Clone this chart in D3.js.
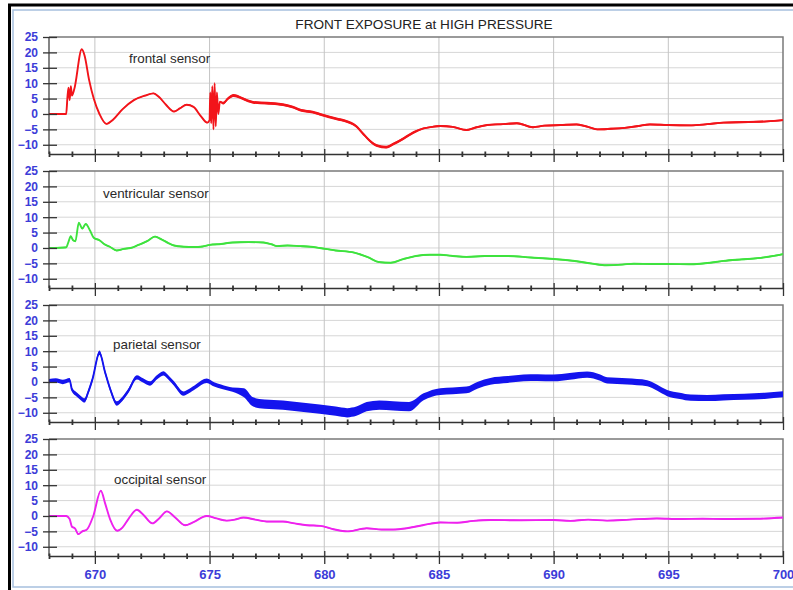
<!DOCTYPE html>
<html>
<head>
<meta charset="utf-8">
<script src="https://cdn.jsdelivr.net/npm/d3@7"></script>
<style>
  body { margin: 0; background: #fff; }
  svg { display: block; font-family: "Liberation Sans", Arial, sans-serif; }
</style>
</head>
<body>
<script>
'use strict';

// chart values
const title = "FRONT EXPOSURE at HIGH PRESSURE";
const sensorNames = ["frontal sensor", "ventricular sensor", "parietal sensor", "occipital sensor"];
const sensorColors = ["#f2141a", "#3ee23e", "#1414ee", "#ee22ee"];
const xMajorTicks = [670, 675, 680, 685, 690, 695, 700];
const yTicks = [25, 20, 15, 10, 5, 0, -5, -10];

// [time, value]
const frontal = [
  [668, 0], [668.75, 0], [668.8, 5], [668.85, 8.5], [668.9, 4.5], [668.95, 9], [669.0, 6],
  [669.1, 8], [669.43, 21], [669.55, 19], [669.75, 11], [669.95, 5], [670.2, 0], [670.5, -3.2],
  [670.8, -1.8], [671.2, 1.5], [671.7, 4.5], [672.2, 6], [672.55, 6.7], [672.8, 5.5], [673.1, 3],
  [673.45, 0.8], [673.7, 1.8], [674.0, 3], [674.3, 2.3], [674.6, -0.5], [674.9, -2.8], [675.0, -2],
  [675.03, 7], [675.07, -3], [675.12, 9], [675.17, -5], [675.22, 10], [675.27, -4], [675.32, 7],
  [675.38, 0], [675.45, 4], [675.6, 3.5], [675.8, 5], [676.05, 6], [676.3, 5.5], [676.6, 4.5],
  [676.9, 3.8], [677.5, 3.5], [678.2, 3], [678.6, 2.3], [679.0, 1.2], [679.5, 0.6], [679.9, -0.3],
  [680.5, -1.5], [681.0, -2.5], [681.4, -4], [681.7, -6.5], [682.0, -8.8], [682.3, -10.3],
  [682.7, -10.8], [683.0, -9.8], [683.45, -8], [683.9, -6], [684.33, -4.7], [684.7, -4.2],
  [685.06, -3.9], [685.6, -4.2], [686.2, -5.2], [686.6, -4.4], [687.1, -3.6], [687.8, -3.3],
  [688.4, -3], [689.1, -4.3], [689.6, -3.8], [690.3, -3.6], [691.0, -3.4], [691.5, -4.2],
  [691.9, -5], [692.5, -4.8], [693.1, -4.5], [693.7, -3.9], [694.2, -3.4], [695.0, -3.6],
  [696.0, -3.7], [696.7, -3.3], [697.4, -2.8], [698.5, -2.6], [699.3, -2.4], [700, -2]
];

const ventricular = [
  [668, 0], [668.75, 0.2], [668.85, 2], [668.95, 3.8], [669.05, 2.5], [669.15, 2.2], [669.3, 8.2],
  [669.45, 6.3], [669.6, 7.8], [669.8, 5.5], [669.95, 3.3], [670.2, 2.5], [670.4, 1.3],
  [670.65, 0.4], [670.95, -0.8], [671.25, -0.3], [671.55, 0], [671.9, 1], [672.3, 2.3],
  [672.62, 3.7], [672.9, 2.8], [673.2, 1.6], [673.45, 0.8], [673.9, 0.4], [674.3, 0.3],
  [674.7, 0.5], [675.0, 1], [675.5, 1.3], [676.0, 1.8], [676.7, 1.9], [677.35, 1.8], [677.7, 1.2],
  [677.95, 0.6], [678.4, 0.8], [678.95, 0.6], [679.4, 0.4], [679.8, 0], [680.5, -0.8],
  [681.3, -1.5], [681.9, -3], [682.4, -4.6], [682.9, -4.8], [683.45, -3.6], [684.0, -2.6],
  [684.6, -2.2], [685.06, -2.2], [685.6, -2.6], [686.2, -2.9], [687.0, -2.6], [688.0, -2.6],
  [689.0, -3.1], [690.0, -3.6], [691.0, -4.3], [691.7, -5.1], [692.3, -5.6], [693.0, -5.4],
  [693.5, -5.1], [694.3, -5.2], [695.0, -5.2], [696.0, -5.3], [696.7, -4.9], [697.4, -4.2],
  [698.2, -3.7], [698.9, -3.3], [699.5, -2.7], [700, -2]
];

const parietal = [
  [668, 0.3], [668.3, 0.5], [668.6, 0], [668.9, 0.6], [669.0, -2.5], [669.2, -4], [669.4, -5.3],
  [669.55, -6], [669.7, -3.5], [669.9, 1], [670.2, 9.5], [670.45, 3], [670.7, -3], [670.95, -7],
  [671.2, -5.5], [671.45, -3], [671.83, 1.5], [672.1, 0.5], [672.4, -0.5], [672.7, 1.5],
  [672.99, 2.8], [673.2, 1.5], [673.45, -0.5], [673.86, -3.8], [674.1, -3], [674.4, -1.5],
  [674.88, 0.4], [675.2, -0.8], [675.5, -1.5], [676.0, -2.5], [676.5, -3.5], [676.9, -6.5],
  [677.4, -7.2], [678.2, -7.5], [679.0, -8.2], [679.8, -8.8], [680.5, -9.5], [681.0, -10],
  [681.4, -9.5], [681.85, -8], [682.4, -7.5], [683.0, -7.8], [683.7, -8], [684.33, -4.8],
  [685.06, -3.1], [685.6, -2.9], [686.2, -2.6], [686.7, -1], [687.24, 0.2], [688.0, 0.8],
  [688.69, 1.3], [689.3, 1.4], [690.0, 1.3], [690.7, 1.8], [691.46, 2.4], [692.0, 1.5],
  [692.33, 0.5], [693.2, 0.2], [694.08, -0.4], [694.5, -1.8], [694.95, -3.6], [695.5, -4.5],
  [695.97, -5.1], [696.7, -5.2], [697.4, -5], [698.3, -4.8], [699.2, -4.5], [700, -4]
];

const occipital = [
  [668, 0], [668.75, 0], [668.9, -1], [669.0, -3.5], [669.13, -4], [669.28, -5.9], [669.45, -5],
  [669.64, -4.5], [669.93, 0], [670.26, 8.2], [670.45, 4], [670.66, -1], [670.98, -4.8],
  [671.2, -3.8], [671.46, -1], [671.83, 2], [672.1, 0.5], [672.51, -2.4], [672.8, -0.8],
  [673.14, 1.5], [673.5, -0.5], [673.93, -3], [674.3, -2], [674.88, 0], [675.3, -0.8],
  [675.75, -1.5], [676.1, -1.2], [676.48, -0.5], [677.0, -1.2], [677.5, -1.8], [678.2, -1.8],
  [678.7, -2.4], [679.24, -3], [679.82, -3.2], [680.4, -4.3], [681.0, -5], [681.85, -4],
  [682.5, -4.4], [683.0, -4.4], [683.6, -4], [684.3, -3], [685.06, -2.1], [685.8, -2.2],
  [686.5, -1.6], [687.24, -1.3], [688.5, -1.4], [690.0, -1.3], [690.73, -1.6], [691.5, -1.2],
  [692.33, -1.5], [693.3, -1.2], [694.5, -0.8], [695.5, -1], [696.5, -0.9], [697.4, -1],
  [698.87, -0.9], [700, -0.5]
];

// noise half-width of each trace: [from time, half-width]
const frontalNoise = [[668, 0.2], [675.5, 0.45], [684, 0.3]];
const ventricularNoise = [[668, 0.25]];
const parietalNoise = [[668, 0.7], [676.5, 1.5], [684, 1.1], [691, 1.0]];
const occipitalNoise = [[668, 0.2]];

const series = [frontal, ventricular, parietal, occipital];
const noises = [frontalNoise, ventricularNoise, parietalNoise, occipitalNoise];

const width = 793, height = 590;
const left = 49, right = 783;
const panelTop = 37, panelH = 117, panelStep = 134;
const labelPos = [[129, 63], [103, 198], [113, 349], [114, 484]];

const svg = d3.select("body").append("svg")
  .attr("width", width)
  .attr("height", height);

// outer frame
svg.append("path").attr("d", "M9.5,590 V5 H793").attr("fill", "none")
  .attr("stroke", "#000").attr("stroke-width", 3);
svg.append("path").attr("d", "M793,10 H13 V587 H793").attr("fill", "none")
  .attr("stroke", "#a7c0de").attr("stroke-width", 1.5);

svg.append("text")
  .attr("x", 424).attr("y", 29)
  .attr("text-anchor", "middle")
  .attr("font-size", 13.6)
  .attr("fill", "#222")
  .text(title);

const x = d3.scaleLinear().domain([668, 700]).range([left, right]);

function noiseAt(table, t) {
  let w = table[0][1];
  table.forEach(function(d) { if (t >= d[0]) w = d[1]; });
  return w;
}

series.forEach(function(data, i) {
  const top = panelTop + i * panelStep;
  const bottom = top + panelH;
  const y = d3.scaleLinear().domain([-13, 25]).range([bottom, top]);
  const g = svg.append("g");

  // grid
  g.selectAll("line.hgrid")
    .data(yTicks.filter(function(d) { return d !== 25; }))
    .enter().append("line")
      .attr("class", "hgrid")
      .attr("x1", left).attr("x2", right)
      .attr("y1", function(d) { return y(d); })
      .attr("y2", function(d) { return y(d); })
      .attr("stroke", "#d6d6d6");
  g.selectAll("line.vgrid")
    .data(xMajorTicks.filter(function(d) { return d !== 700; }))
    .enter().append("line")
      .attr("class", "vgrid")
      .attr("x1", function(d) { return x(d); })
      .attr("x2", function(d) { return x(d); })
      .attr("y1", top).attr("y2", bottom)
      .attr("stroke", "#c4c4c4");

  // frame top/right
  g.append("path")
    .attr("d", "M" + left + "," + top + " H" + right + " V" + bottom)
    .attr("fill", "none").attr("stroke", "#7a7a7a").attr("stroke-width", 1.5);

  // data
  const noise = noises[i];
  const area = d3.area()
    .x(function(d) { return x(d[0]); })
    .y0(function(d) { return y(d[1] - noiseAt(noise, d[0])); })
    .y1(function(d) { return y(d[1] + noiseAt(noise, d[0])); })
    .curve(d3.curveMonotoneX);
  const line = d3.line()
    .x(function(d) { return x(d[0]); })
    .y(function(d) { return y(d[1]); })
    .curve(d3.curveMonotoneX);

  g.append("path").datum(data)
    .attr("d", area)
    .attr("fill", sensorColors[i]);
  g.append("path").datum(data)
    .attr("d", line)
    .attr("fill", "none")
    .attr("stroke", sensorColors[i])
    .attr("stroke-width", 1.9);

  // y axis
  const yAxis = g.append("g")
    .attr("transform", "translate(" + left + ",0)")
    .call(d3.axisLeft(y).tickValues(yTicks).tickSizeInner(6).tickSizeOuter(0).tickPadding(5));
  yAxis.select(".domain").remove();
  yAxis.selectAll(".tick line").attr("x1", 8).attr("stroke", "#333").attr("stroke-width", 1.3);
  yAxis.selectAll(".tick text")
    .attr("fill", "#3c3cd8")
    .attr("font-size", 12)
    .attr("font-weight", "bold")
    .attr("font-family", "'Liberation Sans', Arial, sans-serif");
  g.append("line")
    .attr("x1", left).attr("x2", left).attr("y1", top).attr("y2", bottom)
    .attr("stroke", "#333").attr("stroke-width", 1.2);

  // x axis
  const xAxis = g.append("g")
    .attr("transform", "translate(0," + bottom + ")")
    .call(d3.axisBottom(x).tickValues(d3.range(668, 701)).tickSize(0).tickPadding(14)
      .tickFormat(function(d) { return (i === 3 && d % 5 === 0) ? d : ""; }));
  xAxis.select(".domain").attr("stroke", "#333").attr("stroke-width", 1.3);
  xAxis.selectAll(".tick line")
    .attr("y1", function(d) { return d % 5 === 0 ? -5 : -2.5; })
    .attr("y2", function(d) { return d % 5 === 0 ? 8 : 3; })
    .attr("stroke", "#333")
    .attr("stroke-width", function(d) { return d % 5 === 0 ? 1.3 : 1.8; });
  xAxis.selectAll(".tick text")
    .attr("fill", "#3c3cd8")
    .attr("font-size", 13)
    .attr("font-weight", "bold")
    .attr("font-family", "'Liberation Sans', Arial, sans-serif");

  // sensor label
  svg.append("text")
    .attr("x", labelPos[i][0]).attr("y", labelPos[i][1])
    .attr("font-size", 13.4)
    .attr("fill", "#2a2a2a")
    .text(sensorNames[i]);
});
</script>
</body>
</html>
